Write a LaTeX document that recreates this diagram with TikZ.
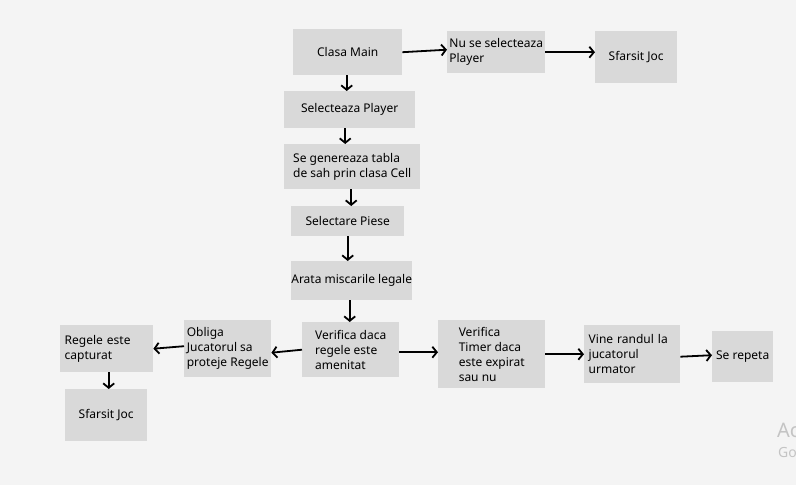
\documentclass[tikz,border=0pt]{standalone}
\usepackage{fontspec}
\setmainfont{Noto Sans}
\usetikzlibrary{arrows.meta}
\definecolor{canvas}{HTML}{F4F4F4}
\definecolor{boxgray}{HTML}{D9D9D9}
\definecolor{markgray}{HTML}{C4C4C4}
\begin{document}
\begin{tikzpicture}[x=1pt,y=-1pt,
    box/.style={fill=boxgray,anchor=north west,inner ysep=0pt,inner xsep=0pt,align=left,
        font=\fontsize{12}{15}\selectfont},
    arr/.style={-{Straight Barb[length=4.5pt,width=11pt]},line width=1.8pt}]
            \fill[canvas] (0,0) rectangle (796,485);
            \useasboundingbox (0,0) rectangle (796,485);
            \node[box,minimum width=109,minimum height=46] (main) at (293,29) {Clasa Main};
            \node[box,minimum width=98,minimum height=42] (nusel) at (447,31) {Nu se selecteaza\\Player};
            \node[box,minimum width=82,minimum height=52] (endtop) at (595,31) {Sfarsit Joc};
            \node[box,minimum width=131,minimum height=37] (selpl) at (284,91) {Selecteaza Player};
            \node[box,minimum width=136,minimum height=45] (tabla) at (284,144) {Se genereaza tabla\\de sah prin clasa Cell};
            \node[box,minimum width=113,minimum height=30] (piese) at (291,206) {Selectare Piese};
            \node[box,minimum width=121,minimum height=39] (arata) at (291,261) {Arata miscarile legale};
            \node[box,minimum width=97,minimum height=55] (verif) at (302,322) {Verifica daca\\regele este\\amenitat};
            \node[box,minimum width=87,minimum height=57] (obliga) at (184,320) {Obliga\\Jucatorul sa\\proteje Regele};
            \node[box,minimum width=93,minimum height=47,text width=84,inner xsep=4.5] (regele) at (60,325) {Regele este\\capturat};
            \node[box,minimum width=82,minimum height=52] (endbot) at (65,389) {Sfarsit Joc};
            \node[box,minimum width=107,minimum height=68] (timer) at (438,320) {Verifica\\Timer daca\\este expirat\\sau nu};
            \node[box,minimum width=96,minimum height=58,text width=87,inner xsep=4.5] (vine) at (584,325) {Vine randul la\\jucatorul\\urmator};
            \node[box,minimum width=61,minimum height=51] (serep) at (712,331) {Se repeta};
            \node[anchor=west,inner sep=0pt,text=markgray,font=\fontsize{20}{20}\selectfont] (ac) at (777,430) {Ac};
            \node[anchor=west,inner sep=0pt,text=markgray,font=\fontsize{14}{14}\selectfont] (go) at (778,452) {Go};
            \draw[arr] (main.east) -- ([yshift=2.5pt]nusel.west);
            \draw[arr] (nusel.east) -- ([yshift=5pt]endtop.west);
            \draw[arr] ([xshift=-1pt]main.south) -- ([xshift=-1pt]main.south |- selpl.north);
            \draw[arr] ([xshift=-4.5pt]selpl.south) -- ([xshift=-4.5pt]selpl.south |- tabla.north);
            \draw[arr] ([xshift=-1pt]tabla.south) -- ([xshift=-1pt]tabla.south |- piese.north);
            \draw[arr] (piese.south) -- (piese.south |- arata.north);
            \draw[arr] ([xshift=-2pt]arata.south) -- ([xshift=-2pt]arata.south |- verif.north);
            \draw[arr] (verif.west) -- ([yshift=-4pt]obliga.east);
            \draw[arr] ([yshift=2.5pt]obliga.west) -- (regele.east);
            \draw[arr] ([xshift=2pt]regele.south) -- ([xshift=2pt]regele.south |- endbot.north);
            \draw[arr] ([yshift=-2.5pt]verif.east) -- ([yshift=-2.5pt]verif.east -| timer.west);
            \draw[arr] (timer.east) -- (vine.west);
            \draw[arr] ([yshift=-2.5pt]vine.east) -- ([yshift=1.5pt]serep.west);
        \end{tikzpicture}
\end{document}
